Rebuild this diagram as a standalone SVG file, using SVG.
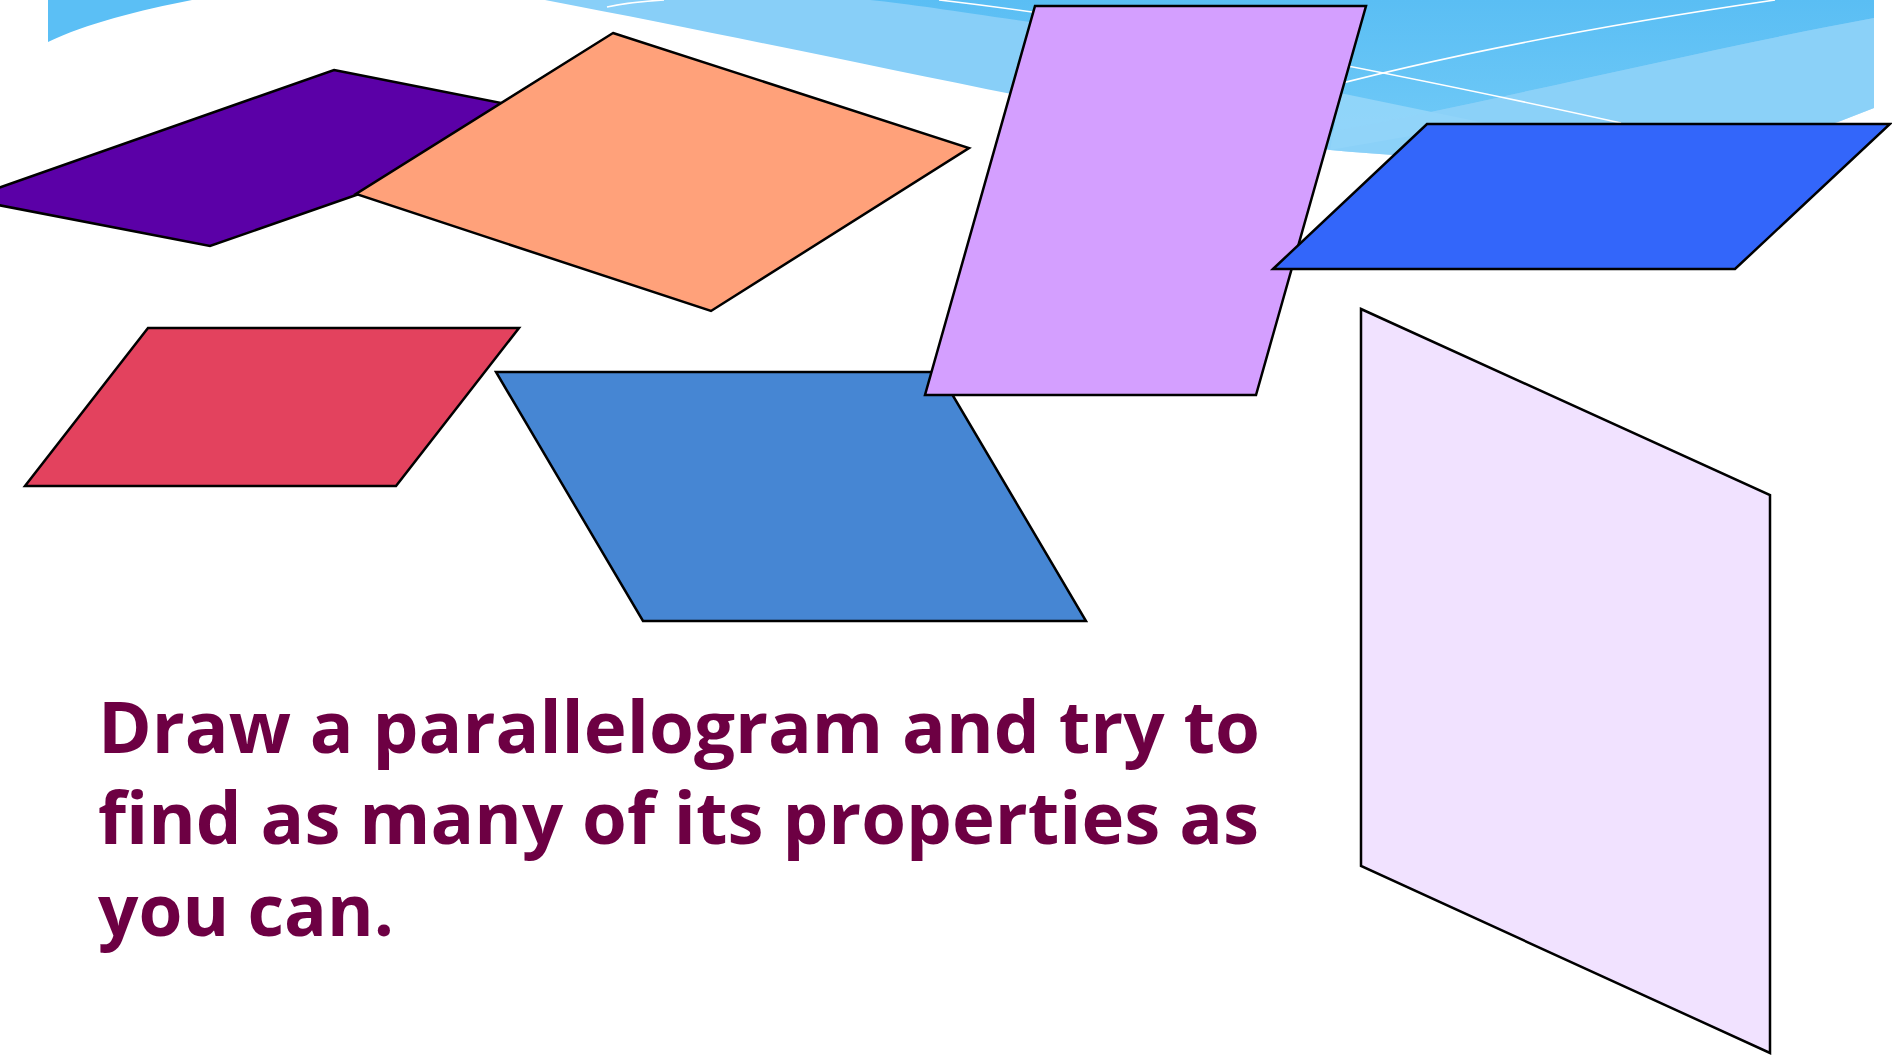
<svg xmlns="http://www.w3.org/2000/svg" width="1892" height="1055" viewBox="0 0 1892 1055">
<defs>
<style>
.shape{stroke:#000;stroke-width:2.5;stroke-linejoin:miter}
.wl{fill:none;stroke:#fff;stroke-width:1.6}
.txt{font-family:"Open Sans","Noto Sans",sans-serif;font-weight:bold;font-size:72px;fill:#6D0043}
</style>
<linearGradient id="skyDark" x1="0" y1="0" x2="0" y2="1">
<stop offset="0" stop-color="#5ABEF4"/>
<stop offset="1" stop-color="#6FC9F7"/>
</linearGradient>
</defs>
<rect width="1892" height="1055" fill="#fff"/>
<g id="banner">
<path d="M48,0 L192,0 C140,10 85,24 48,42 Z" fill="#5BBFF5"/>
<path d="M545,0 L1874,0 L1874,108 L1838,122 C1700,160 1480,165 1330,150 C1100,118 850,58 545,0 Z" fill="#88CFF8"/>
<path d="M870,0 L1874,0 L1874,18 C1700,50 1500,100 1330,132 L1200,120 C1120,60 1060,30 1030,22 C960,12 910,4 870,0 Z" fill="url(#skyDark)"/>
<path d="M1340,93 L1485,123 L1330,150 Z" fill="#9AD8FA" opacity="0.8"/>
<path d="M1330,132 C1500,100 1700,50 1874,18 L1874,108 L1838,122 C1700,160 1480,165 1330,150 Z" fill="#8ED2F9" opacity="0.6"/>
<path class="wl" d="M607,7 Q630,2 664,0"/>
<path class="wl" d="M939,0 Q1200,30 1621,123"/>
<path class="wl" d="M1300,94 Q1500,40 1775,0"/>
</g>
<g id="shape-purple"><polygon class="shape" points="334,70 577,118 210,246 -33,199" fill="#5B00A7"/></g>
<g id="shape-orange"><polygon class="shape" points="613,33 969,148 711,311 356,194" fill="#FFA17A"/></g>
<g id="shape-red"><polygon class="shape" points="148,328 519,328 396,486 25,486" fill="#E3425E"/></g>
<g id="shape-steelblue"><polygon class="shape" points="496,372 939,372 1086,621 643,621" fill="#4686D3"/></g>
<g id="shape-lilac"><polygon class="shape" points="1035,6 1366,6 1256,395 925,395" fill="#D49FFF"/></g>
<g id="shape-blue"><polygon class="shape" points="1427,124 1890,124 1735,269 1273,269" fill="#3366FA"/></g>
<g id="shape-pale"><polygon class="shape" points="1361,309 1770,495 1770,1053 1361,866" fill="#F1E2FF"/></g>
<g id="caption">
<text class="txt" x="98" y="753" textLength="1162" lengthAdjust="spacingAndGlyphs">Draw a parallelogram and try to</text>
<text class="txt" x="98" y="844" textLength="1161" lengthAdjust="spacingAndGlyphs">find as many of its properties as</text>
<text class="txt" x="98" y="936" textLength="296" lengthAdjust="spacingAndGlyphs">you can.</text>
</g>
</svg>
